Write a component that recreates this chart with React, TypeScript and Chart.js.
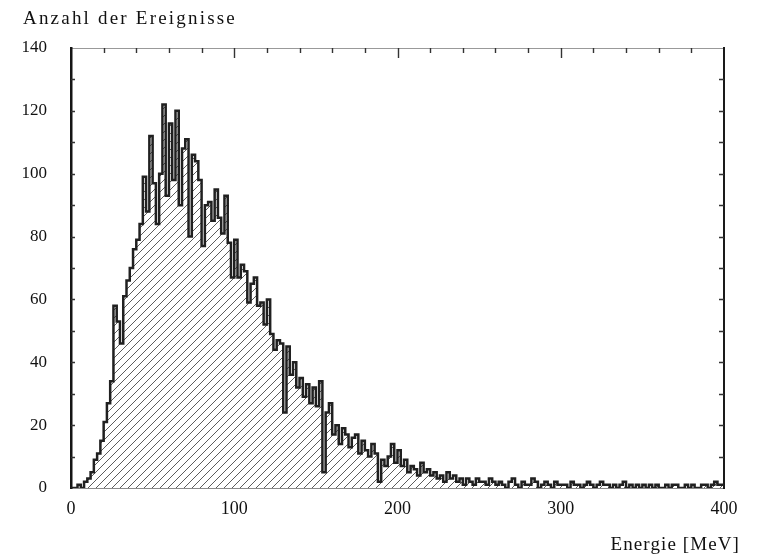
import { useEffect, useRef } from "react";
import { Chart, registerables } from "chart.js";

Chart.register(...registerables);

// Histogram of event energies, 2 MeV per bin, from 0 to 400 MeV
const BIN_WIDTH_MEV = 2;
const ENERGY_MIN = 0;
const ENERGY_MAX = 400;

const counts = [
  0, 0, 1, 0, 2, 3, 5, 9, 11, 15,
  21, 27, 34, 58, 53, 46, 61, 66, 70, 76,
  79, 84, 99, 88, 112, 97, 84, 100, 122, 93,
  116, 98, 120, 90, 108, 111, 80, 106, 104, 98,
  77, 90, 91, 85, 95, 86, 81, 93, 78, 67,
  79, 67, 71, 69, 59, 65, 67, 58, 59, 52,
  60, 49, 44, 47, 46, 24, 45, 36, 40, 32,
  35, 29, 33, 27, 32, 26, 34, 5, 24, 27,
  17, 20, 14, 19, 17, 13, 16, 17, 11, 15,
  12, 10, 14, 11, 2, 9, 7, 10, 14, 8,
  12, 7, 9, 5, 7, 6, 4, 8, 5, 6,
  4, 5, 3, 4, 2, 5, 3, 4, 2, 3,
  1, 3, 2, 1, 3, 2, 2, 1, 3, 2,
  1, 2, 1, 0, 2, 3, 1, 0, 2, 1,
  1, 3, 2, 0, 1, 2, 1, 0, 2, 1,
  1, 1, 0, 2, 1, 1, 0, 1, 2, 1,
  0, 1, 2, 1, 1, 0, 1, 0, 1, 2,
  0, 1, 0, 1, 0, 1, 0, 1, 0, 1,
  0, 0, 1, 0, 1, 1, 0, 0, 1, 0,
  1, 0, 0, 1, 1, 0, 1, 2, 1, 1,
];

const COUNT_MIN = 0;
const COUNT_MAX = 140;
const X_LABEL_STEP = 100;
const Y_LABEL_STEP = 20;
const TOP_MINOR_STEP = 20;
const TOP_MAJOR_STEP = 100;
const SIDE_TICK_STEP = 10;

const yCaption = "Anzahl der Ereignisse";
const xCaption = "Energie [MeV]";

const FONT = "'Liberation Serif', 'Times New Roman', serif";

function makeHatch(): CanvasPattern | string {
  const size = 8;
  const c = document.createElement("canvas");
  c.width = size;
  c.height = size;
  const g = c.getContext("2d");
  if (!g) return "rgba(0,0,0,0.2)";
  g.strokeStyle = "#4a4a4a";
  g.lineWidth = 0.9;
  g.beginPath();
  g.moveTo(-1, size + 1);
  g.lineTo(size + 1, -1);
  g.moveTo(-1, 1);
  g.lineTo(1, -1);
  g.moveTo(size - 1, size + 1);
  g.lineTo(size + 1, size - 1);
  g.stroke();
  return g.createPattern(c, "repeat") ?? "rgba(0,0,0,0.2)";
}

// Inward tick marks on the frame: top edge (energy) and both sides (counts)
const frameTicks = {
  id: "frameTicks",
  afterDatasetsDraw(chart: any) {
    const { ctx, chartArea: a, scales } = chart;
    const xs = scales.x;
    const ys = scales.y;
    ctx.save();
    ctx.strokeStyle = "#333";
    ctx.lineWidth = 1.4;
    ctx.beginPath();
    for (let v = ENERGY_MIN + TOP_MINOR_STEP; v < ENERGY_MAX; v += TOP_MINOR_STEP) {
      const px = Math.round(xs.getPixelForValue(v)) + 0.5;
      const len = v % TOP_MAJOR_STEP === 0 ? 10 : 5;
      ctx.moveTo(px, a.top);
      ctx.lineTo(px, a.top + len);
    }
    for (let v = COUNT_MIN + SIDE_TICK_STEP; v < COUNT_MAX; v += SIDE_TICK_STEP) {
      const py = Math.round(ys.getPixelForValue(v)) + 0.5;
      ctx.moveTo(a.left, py);
      ctx.lineTo(a.left + 4, py);
      ctx.moveTo(a.right - 5, py);
      ctx.lineTo(a.right, py);
    }
    ctx.stroke();
    ctx.restore();
  },
};

export default function App() {
  const canvasRef = useRef<HTMLCanvasElement | null>(null);

  useEffect(() => {
    const canvas = canvasRef.current;
    if (!canvas) return;

    const points = counts.map((c, i) => ({ x: ENERGY_MIN + i * BIN_WIDTH_MEV, y: c }));
    points.push({ x: ENERGY_MAX, y: counts[counts.length - 1] });

    const chart = new Chart(canvas, {
      type: "line",
      data: {
        datasets: [
          {
            data: points,
            stepped: true,
            borderColor: "#202020",
            borderWidth: 2.5,
            pointRadius: 0,
            fill: "origin",
            backgroundColor: makeHatch(),
            xAxisID: "x",
            yAxisID: "y",
          },
        ],
      },
      options: {
        animation: false,
        responsive: true,
        maintainAspectRatio: false,
        layout: { padding: 0 },
        plugins: {
          legend: { display: false },
          tooltip: { enabled: false },
        },
        scales: {
          x: {
            type: "linear",
            position: "bottom",
            min: ENERGY_MIN,
            max: ENERGY_MAX,
            grid: { display: false, drawTicks: false },
            border: { display: true, color: "#8a8a8a", width: 1, dash: [2, 3] },
            ticks: {
              stepSize: X_LABEL_STEP,
              padding: 10,
              color: "#111",
              font: { family: FONT, size: 18 },
              maxRotation: 0,
            },
            afterFit: (s: any) => {
              s.height = 72;
            },
          },
          xTop: {
            type: "linear",
            position: "top",
            min: ENERGY_MIN,
            max: ENERGY_MAX,
            grid: { display: false, drawTicks: false },
            border: { display: true, color: "#999", width: 1, dash: [3, 3] },
            ticks: { display: false },
            afterFit: (s: any) => {
              s.height = 48;
            },
          },
          y: {
            type: "linear",
            position: "left",
            min: COUNT_MIN,
            max: COUNT_MAX,
            grid: { display: false, drawTicks: false },
            border: { display: true, color: "#151515", width: 2.5 },
            ticks: {
              stepSize: Y_LABEL_STEP,
              padding: 24,
              color: "#111",
              font: { family: FONT, size: 17 },
            },
            afterFit: (s: any) => {
              s.width = 71;
            },
          },
          yRight: {
            type: "linear",
            position: "right",
            min: COUNT_MIN,
            max: COUNT_MAX,
            grid: { display: false, drawTicks: false },
            border: { display: true, color: "#1a1a1a", width: 2 },
            ticks: { display: false },
            afterFit: (s: any) => {
              s.width = 38;
            },
          },
        },
      },
      plugins: [frameTicks],
    });

    return () => chart.destroy();
  }, []);

  const captionStyle: React.CSSProperties = {
    position: "absolute",
    fontFamily: FONT,
    fontSize: 19,
    lineHeight: "19px",
    color: "#111",
    whiteSpace: "nowrap",
  };

  return (
    <div style={{ position: "absolute", left: 0, top: 0, width: 762, height: 560, background: "#fff" }}>
      <canvas ref={canvasRef} />
      <div style={{ ...captionStyle, left: 23, top: 8, letterSpacing: "2.2px" }}>{yCaption}</div>
      <div style={{ ...captionStyle, right: 22, top: 534, letterSpacing: "1.1px" }}>{xCaption}</div>
    </div>
  );
}
